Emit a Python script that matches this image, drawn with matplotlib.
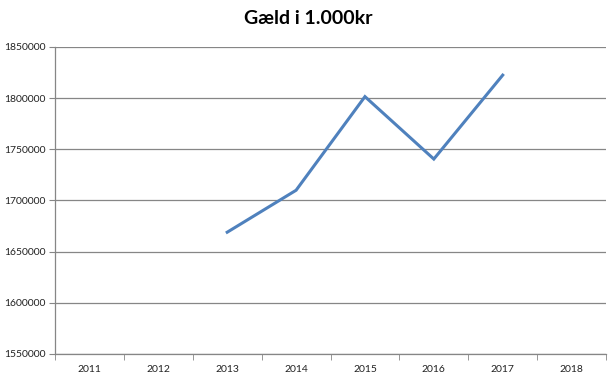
import numpy as np
import matplotlib.pyplot as plt

# data
years = ["2011", "2012", "2013", "2014", "2015", "2016", "2017", "2018"]
debt = [np.nan, np.nan, 1669000, 1710000, 1801500, 1740500, 1822500, np.nan]
y_ticks = [1550000, 1600000, 1650000, 1700000, 1750000, 1800000, 1850000]

plt.rcParams["font.family"] = ["Lato", "DejaVu Sans"]

fig = plt.figure(figsize=(6.16, 3.82), dpi=100)
ax = fig.add_axes([0.0893, 0.0733, 0.8945, 0.8037])

x = np.arange(len(years))
ax.plot(x, debt, color="#4F81BD", linewidth=2.2, solid_joinstyle="miter")

ax.set_xlim(-0.5, len(years) - 0.5)
ax.set_ylim(1550000, 1850000)
ax.set_yticks(y_ticks)
ax.set_yticklabels([str(v) for v in y_ticks], fontsize=7.5, color="#222222")
ax.set_xticks(x)
ax.set_xticklabels(years, fontsize=7.5, color="#222222")
ax.tick_params(axis="x", which="major", length=0, pad=8)
ax.set_xticks(np.arange(-0.5, len(years)), minor=True)
ax.tick_params(axis="x", which="minor", length=4, color="#868686", direction="out")
ax.tick_params(axis="y", length=4, color="#868686", pad=3)

ax.grid(axis="y", color="#868686", linewidth=0.9)
ax.set_axisbelow(True)
for s in ["top", "right"]:
    ax.spines[s].set_visible(False)
for s in ["left", "bottom"]:
    ax.spines[s].set_color("#868686")
    ax.spines[s].set_linewidth(0.9)

fig.suptitle("Gæld i 1.000kr", x=0.5, y=0.975, fontsize=14, fontweight="bold")

fig.savefig("out.png", dpi=100)
